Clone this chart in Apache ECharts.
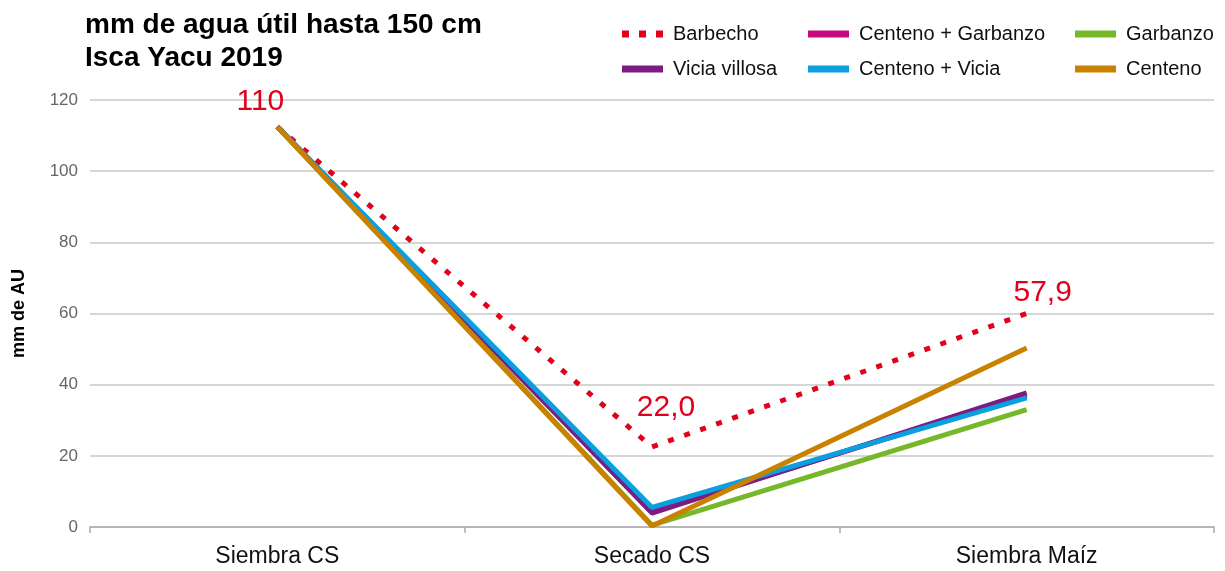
<!DOCTYPE html>
<html><head><meta charset="utf-8">
<script src="https://cdn.jsdelivr.net/npm/echarts@6/dist/echarts.min.js"></script>
<style>html,body{margin:0;padding:0;background:#fff}#c{width:1225px;height:571px}</style>
</head><body><div id="c"></div>
<script>
var categories = ['Siembra CS', 'Secado CS', 'Siembra Maíz'];
var yTicks = [0, 20, 40, 60, 80, 100, 120];
var barbecho = [112.5, 22.5, 60.0];
var barbechoLabels = ['110', '22,0', '57,9'];
var centenoGarbanzo = [112.5, 4.5, 37.0];
var garbanzo = [112.5, 0.5, 33.0];
var viciaVillosa = [112.5, 3.9, 37.7];
var centenoVicia = [112.5, 5.5, 36.3];
var centeno = [112.5, 0.3, 50.3];

var FONT = '"Liberation Sans", Arial, sans-serif';
var chart = echarts.init(document.getElementById('c'), null, {renderer: 'canvas'});

function lineSeries(name, data, color, z, dashed) {
  return {
    name: name, type: 'line', data: data, symbol: 'none', z: z,
    lineStyle: dashed ? {color: color, width: 5, type: [6, 11], cap: 'butt'} : {color: color, width: 5},
    itemStyle: {color: color},
    emphasis: {disabled: true}, animation: false
  };
}
var labelOffsets = [[-17, -5], [14, -19], [16, -1]];
var labelData = barbecho.map(function (v, i) {
  return {value: v, label: {offset: labelOffsets[i]}};
});

var DOTS = 'path://M0,0h7v7h-7z M17,0h7v7h-7z M34,0h7v7h-7z';
function li(name) { return {name: name, icon: name === 'Barbecho' ? DOTS : 'rect'}; }
var legendCommon = {
  orient: 'vertical', itemWidth: 41, itemHeight: 7, itemGap: 13,
  textStyle: {fontFamily: FONT, fontSize: 20, color: '#111', lineHeight: 22, padding: [0, 0, 0, 5]},
  selectedMode: false
};

chart.setOption({
  animation: false,
  title: {
    text: 'mm de agua útil hasta 150 cm\nIsca Yacu 2019',
    left: 80, top: 4,
    textStyle: {fontFamily: FONT, fontSize: 28, fontWeight: 'bold', color: '#000', lineHeight: 33}
  },
  legend: [
    Object.assign({left: 617, top: 18, data: [li('Barbecho'), li('Vicia villosa')]}, legendCommon),
    Object.assign({left: 803, top: 18, data: [li('Centeno + Garbanzo'), li('Centeno + Vicia')]}, legendCommon),
    Object.assign({left: 1070, top: 18, data: [li('Garbanzo'), li('Centeno')]}, legendCommon)
  ],
  grid: {left: 90, right: 11, top: 100, bottom: 44},
  xAxis: {
    type: 'category', data: categories, boundaryGap: true,
    axisLine: {lineStyle: {color: '#aaa', width: 1.5}},
    axisTick: {show: true, length: 6, lineStyle: {color: '#aaa', width: 1.5}},
    axisLabel: {fontFamily: FONT, fontSize: 23, color: '#111', margin: 18}
  },
  yAxis: {
    type: 'value', min: yTicks[0], max: yTicks[yTicks.length - 1], interval: 20,
    name: 'mm de AU', nameLocation: 'middle', nameGap: 62, nameRotate: 90,
    nameTextStyle: {fontFamily: FONT, fontSize: 18, fontWeight: 'bold', color: '#000'},
    axisLine: {show: false}, axisTick: {show: false},
    axisLabel: {fontFamily: FONT, fontSize: 17, color: '#666', margin: 12},
    splitLine: {lineStyle: {color: '#c8c8c8', width: 1.5}}
  },
  series: [
    lineSeries('Barbecho', barbecho, '#e2001a', 2, true),
    lineSeries('Garbanzo', garbanzo, '#76b82a', 3),
    lineSeries('Centeno + Garbanzo', centenoGarbanzo, '#c8087e', 4),
    lineSeries('Vicia villosa', viciaVillosa, '#7c1c80', 5),
    lineSeries('Centeno + Vicia', centenoVicia, '#0a9fdf', 6),
    lineSeries('Centeno', centeno, '#c98100', 7),
    {
      name: 'labels', type: 'scatter', data: labelData, symbolSize: 0, z: 10,
      silent: true, animation: false,
      itemStyle: {opacity: 1, color: '#e2001a'},
      label: {
        show: true, position: 'top', opacity: 1,
        formatter: function (p) { return barbechoLabels[p.dataIndex]; },
        fontFamily: FONT, fontSize: 30, color: '#e2001a'
      }
    }
  ]
});
</script></body></html>
